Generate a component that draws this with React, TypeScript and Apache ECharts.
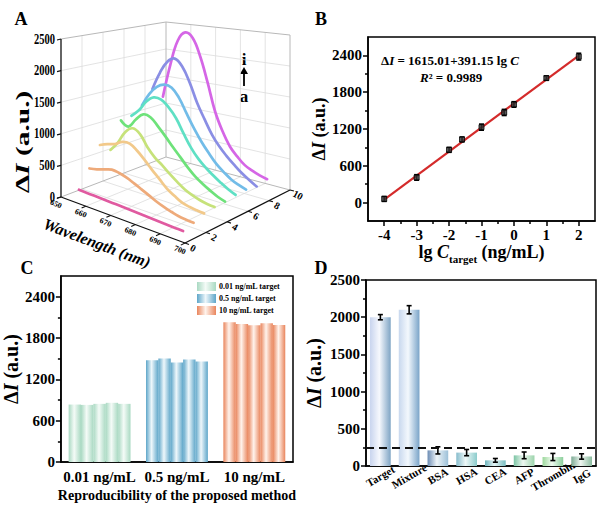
import React, { useEffect, useRef } from 'react';
import * as echarts from 'echarts';

const FONT = '"Liberation Serif", "Times New Roman", Times, serif';

// ---------- Panel A: fluorescence spectra (a..i) ----------
const wavelengths = [653, 656, 659, 662, 665, 668, 671, 674, 677, 680, 683, 686, 689, 692, 695];
const curveNames = ['a', 'b', 'c', 'd', 'e', 'f', 'g', 'h', 'i'];
const curvePositions = [1, 2, 3, 4, 5, 6, 7, 8, 9];
const spectrumA = [95, 90, 86, 82, 78, 74, 70, 65, 60, 55, 50, 45, 40, 36, 32];
const spectrumB = [375, 400, 440, 475, 460, 425, 375, 320, 265, 210, 165, 130, 100, 88, 80];
const spectrumC = [700, 750, 790, 860, 870, 790, 680, 560, 450, 340, 265, 200, 170, 155, 145];
const spectrumD = [560, 720, 930, 1025, 960, 780, 650, 560, 460, 370, 290, 240, 200, 175, 165];
const spectrumE = [1000, 930, 1080, 1200, 1180, 1060, 930, 790, 660, 530, 420, 340, 270, 210, 170];
const spectrumF = [1025, 1150, 1330, 1430, 1420, 1320, 1170, 950, 750, 600, 490, 400, 320, 250, 195];
const spectrumG = [1150, 1380, 1530, 1595, 1570, 1420, 1190, 970, 780, 620, 480, 380, 295, 240, 200];
const spectrumH = [1390, 1700, 1920, 1995, 1880, 1630, 1310, 1060, 830, 660, 530, 420, 320, 240, 170];
const spectrumI = [1200, 1800, 2250, 2410, 2330, 2030, 1600, 1130, 820, 590, 450, 340, 280, 235, 205];
const spectra = [spectrumA, spectrumB, spectrumC, spectrumD, spectrumE, spectrumF, spectrumG, spectrumH, spectrumI];
const zTicks = [0, 500, 1000, 1500, 2000, 2500];
const wlTicks = [650, 660, 670, 680, 690, 700];
const idxTicks = [0, 2, 4, 6, 8, 10];

// ---------- Panel B: calibration ----------
const lgConc = [-4, -3, -2, -1.6, -1, -0.3, 0, 1, 2];
const deltaIB = [60, 410, 860, 1030, 1230, 1470, 1600, 2030, 2380];
const errB = [40, 45, 40, 40, 50, 50, 45, 35, 55];
const fitX = [-4, 2];
const fitY = [50, 2397];
const bTicksX = [-4, -3, -2, -1, 0, 1, 2];
const bMinorX = [-3.5, -2.5, -1.5, -0.5, 0.5, 1.5];
const bTicksY = [0, 600, 1200, 1800, 2400];
const bMinorY = [300, 900, 1500, 2100];

// ---------- Panel C: reproducibility ----------
const reproGroups = ['0.01 ng/mL', '0.5 ng/mL', '10 ng/mL'];
const reproLegend = ['0.01 ng/mL target', '0.5 ng/mL target', '10 ng/mL target'];
const rep1 = [834, 1478, 2029];
const rep2 = [829, 1502, 2005];
const rep3 = [844, 1444, 1985];
const rep4 = [859, 1488, 2015];
const rep5 = [844, 1459, 1990];
const replicates = [rep1, rep2, rep3, rep4, rep5];
const cTicksY = [0, 600, 1200, 1800, 2400];
const cMinorY = [300, 900, 1500, 2100];

// ---------- Panel D: selectivity ----------
const selCategories = ['Target', 'Mixture', 'BSA', 'HSA', 'CEA', 'AFP', 'Thrombin', 'IgG'];
const selValues = [2000, 2100, 210, 180, 76, 143, 121, 128];
const selErrors = [35, 55, 48, 42, 25, 45, 48, 36];
const selThreshold = 250;

// ---------- styles ----------
const curveColors = ['#e05aa0', '#eeaa7a', '#f2c98a', '#c6e27a', '#6ee27a', '#5fe0c4', '#72bce8', '#8a8ee4', '#d566e6'];
const cColors = [
  ['#a9d9c2', '#f4fbf7'],
  ['#5ea6c9', '#eef7fb'],
  ['#e9855c', '#fff3ec'],
];
const dColors = [
  ['#c8d4ee', '#f6f8fd', '#7ea4c4'],
  ['#c8d8ee', '#f3f8fd', '#7aa4c8'],
  ['#6c8cb4', '#eef4f8', '#9cc0d8'],
  ['#86bccc', '#eef8f8', '#8ccccc'],
  ['#70b4bc', '#e4f4f4', '#78bcc0'],
  ['#7cc4a4', '#eef8f0', '#9cd4ac'],
  ['#9cd89c', '#f0fbf0', '#8cd09c'],
  ['#7caa94', '#eef6f0', '#8cbca0'],
];

// 3D box layout for panel A (pixels inside panel A's hidden grid)
const BOX = {
  left: [61, 197], front: [185, 243], back: [166, 157], right: [290, 190],
  hLeft: 158, hFront: 170, hBack: 135, hRight: 155,
};

function proj(wl: number, idx: number, z: number): number[] {
  const u = (wl - wlTicks[0]) / (wlTicks[wlTicks.length - 1] - wlTicks[0]);
  const v = (idx - idxTicks[0]) / (idxTicks[idxTicks.length - 1] - idxTicks[0]);
  const a = (1 - u) * (1 - v), b = u * (1 - v), c = (1 - u) * v, d = u * v;
  const x = a * BOX.left[0] + b * BOX.front[0] + c * BOX.back[0] + d * BOX.right[0];
  const y = a * BOX.left[1] + b * BOX.front[1] + c * BOX.back[1] + d * BOX.right[1];
  const h = a * BOX.hLeft + b * BOX.hFront + c * BOX.hBack + d * BOX.hRight;
  return [x, y - (z / zTicks[zTicks.length - 1]) * h];
}

function hGrad(stops: string[]) {
  const n = stops.length;
  return new echarts.graphic.LinearGradient(0, 0, 1, 0,
    stops.map((c, i) => ({ offset: n === 3 && i === 1 ? 0.45 : i / (n - 1), color: c })));
}

const plain = (v: any) => String(v);
const bold = { fontFamily: FONT, fontWeight: 'bold' as const, color: '#000' };
const blackLine = { color: '#000', width: 1.5 };

function deltaIRich(size: number) {
  return {
    rich: {
      d: { fontFamily: FONT, fontWeight: 'bold', fontSize: size, color: '#000' },
      i: { fontFamily: FONT, fontWeight: 'bold', fontStyle: 'italic', fontSize: size, color: '#000' },
    },
  };
}
const deltaIName = '{d|Δ}{i|I}{d| (a.u.)}';

function errorBarRender(cap: number) {
  return (params: any, api: any) => {
    const x = api.value(0), y = api.value(1), e = api.value(2);
    const hi = api.coord([x, y + e]);
    const lo = api.coord([x, y - e]);
    const st = { stroke: '#000', lineWidth: 1.6 };
    return {
      type: 'group',
      children: [
        { type: 'line', shape: { x1: hi[0], y1: hi[1], x2: lo[0], y2: lo[1] }, style: st },
        { type: 'line', shape: { x1: hi[0] - cap / 2, y1: hi[1], x2: hi[0] + cap / 2, y2: hi[1] }, style: st },
        { type: 'line', shape: { x1: lo[0] - cap / 2, y1: lo[1], x2: lo[0] + cap / 2, y2: lo[1] }, style: st },
      ],
    };
  };
}

function renderFrame(params: any, api: any) {
  const P = (wl: number, idx: number, z: number) => api.coord(proj(wl, idx, z));
  const wl0 = wlTicks[0], wl1 = wlTicks[wlTicks.length - 1];
  const i0 = idxTicks[0], i1 = idxTicks[idxTicks.length - 1];
  const zTop = zTicks[zTicks.length - 1];
  const children: any[] = [];
  const seg = (a: number[], b: number[], stroke: string, w: number) =>
    children.push({ type: 'line', shape: { x1: a[0], y1: a[1], x2: b[0], y2: b[1] }, style: { stroke, lineWidth: w } });
  const GRID = '#dcdcdc', EDGE = '#b8b8b8', AX = '#111';
  wlTicks.slice(1, -1).forEach((w) => seg(P(w, i0, 0), P(w, i1, 0), GRID, 0.8));
  idxTicks.slice(1, -1).forEach((k) => seg(P(wl0, k, 0), P(wl1, k, 0), GRID, 0.8));
  zTicks.slice(1, -1).forEach((z) => seg(P(wl0, i0, z), P(wl0, i1, z), GRID, 0.8));
  idxTicks.slice(1, -1).forEach((k) => seg(P(wl0, k, 0), P(wl0, k, zTop), GRID, 0.8));
  zTicks.slice(1, -1).forEach((z) => seg(P(wl0, i1, z), P(wl1, i1, z), GRID, 0.8));
  wlTicks.slice(1, -1).forEach((w) => seg(P(w, i1, 0), P(w, i1, zTop), GRID, 0.8));
  seg(P(wl0, i0, 0), P(wl0, i1, 0), EDGE, 1);
  seg(P(wl0, i1, 0), P(wl1, i1, 0), EDGE, 1);
  seg(P(wl0, i1, 0), P(wl0, i1, zTop), EDGE, 1);
  seg(P(wl1, i1, 0), P(wl1, i1, zTop), EDGE, 1);
  seg(P(wl0, i0, zTop), P(wl0, i1, zTop), EDGE, 1);
  seg(P(wl0, i1, zTop), P(wl1, i1, zTop), EDGE, 1);
  seg(P(wl0, i0, 0), P(wl0, i0, zTop), AX, 1.3);
  seg(P(wl0, i0, 0), P(wl1, i0, 0), AX, 1.3);
  seg(P(wl1, i0, 0), P(wl1, i1, 0), AX, 1.3);
  zTicks.forEach((z) => {
    const p = P(wl0, i0, z);
    seg(p, [p[0] - 4, p[1] + 1], AX, 1.2);
    children.push({
      type: 'text', x: p[0] - 6, y: p[1], scaleX: 0.75,
      style: { text: String(z), align: 'right', verticalAlign: 'middle', fontFamily: FONT, fontWeight: 'bold', fontSize: 14, fill: '#000' },
    });
  });
  wlTicks.forEach((w) => {
    const p = P(w, i0, 0);
    seg(p, P(w, i0 - 0.4, 0), AX, 1.1);
    children.push({
      type: 'text', x: p[0] - 5, y: p[1] + 7, rotation: -0.4,
      style: { text: String(w), align: 'center', verticalAlign: 'middle', fontFamily: FONT, fontWeight: 'bold', fontSize: 8, fill: '#000' },
    });
  });
  idxTicks.forEach((k) => {
    const p = P(wl1, k, 0);
    seg(p, P(wl1 + 1.6, k, 0), AX, 1.1);
    children.push({
      type: 'text', x: p[0] + 8, y: p[1] + 5, rotation: -0.5,
      style: { text: String(k), align: 'center', verticalAlign: 'middle', fontFamily: FONT, fontWeight: 'bold', fontSize: 10, fill: '#000' },
    });
  });
  return { type: 'group', children };
}

function renderCurve(params: any, api: any) {
  const k = api.value(0);
  const spec = spectra[k];
  const pos = curvePositions[k];
  const pts = wavelengths.map((w, j) => api.coord(proj(w, pos, spec[j])));
  return {
    type: 'polyline',
    shape: { points: pts, smooth: 0.4 },
    style: { stroke: curveColors[k], lineWidth: 2.7, fill: 'none', lineCap: 'round' },
  };
}

function buildOption(): any {
  const cGrads = cColors.map((c) => hGrad([c[0], c[1], c[0]]));
  const dGrads = dColors.map((c) => hGrad(c));
  const txt = (text: string, x: number, y: number, size: number, extra: any = {}) => ({
    type: 'text', x, y, ...extra,
    style: { text, fontFamily: FONT, fontWeight: 'bold', fontSize: size, fill: '#000', align: 'center', verticalAlign: 'middle', ...(extra.style || {}) },
  });
  return {
    animation: false,
    backgroundColor: '#fff',
    textStyle: { fontFamily: FONT },
    grid: [
      { left: 368, top: 37, width: 227, height: 184, show: true, borderColor: '#000', borderWidth: 1.5, backgroundColor: 'transparent' },
      { left: 59, top: 276, width: 234, height: 186, show: true, borderColor: '#000', borderWidth: 1.5, backgroundColor: 'transparent' },
      { left: 366, top: 280, width: 230, height: 186, show: true, borderColor: '#000', borderWidth: 1.5, backgroundColor: 'transparent' },
      { left: 0, top: 0, width: 300, height: 250, show: false },
    ],
    legend: {
      data: reproLegend.map((n, g) => ({ name: n, icon: 'rect', itemStyle: { color: cGrads[g] } })),
      left: 197, top: 282, orient: 'vertical', itemWidth: 19, itemHeight: 9, itemGap: 3, padding: 0,
      selectedMode: false,
      textStyle: { fontFamily: FONT, fontWeight: 'bold', fontSize: 8, color: '#000', padding: [0, 0, 0, -2] },
    },
    xAxis: [
      {
        gridIndex: 0, type: 'value', min: -4.5, max: 2.5,
        axisLine: { show: true, onZero: false, lineStyle: blackLine },
        axisTick: { show: true, customValues: bTicksX, length: 5, lineStyle: blackLine },
        axisLabel: { customValues: bTicksX, formatter: plain, ...bold, fontSize: 15, margin: 6 },
        splitLine: { show: false },
        name: '{t|lg }{it|C}{sub|target}{t| (ng/mL)}', nameLocation: 'middle', nameGap: 17,
        nameTextStyle: {
          rich: {
            t: { fontFamily: FONT, fontWeight: 'bold', fontSize: 18, color: '#000', lineHeight: 25 },
            it: { fontFamily: FONT, fontWeight: 'bold', fontStyle: 'italic', fontSize: 18, color: '#000', lineHeight: 25 },
            sub: { fontFamily: FONT, fontWeight: 'bold', fontSize: 11, color: '#000', verticalAlign: 'bottom' },
          },
        },
      },
      {
        gridIndex: 0, type: 'value', min: -4.5, max: 2.5, position: 'bottom',
        axisLine: { show: false, onZero: false }, axisLabel: { show: false }, splitLine: { show: false },
        axisTick: { show: true, customValues: bMinorX, length: 3, lineStyle: blackLine },
      },
      {
        gridIndex: 1, type: 'category', data: reproGroups,
        axisLine: { show: true, onZero: false, lineStyle: blackLine }, axisTick: { show: false },
        axisLabel: { ...bold, fontSize: 15, margin: 7, interval: 0 },
        name: 'Reproducibility of the proposed method', nameLocation: 'middle', nameGap: 26,
        nameTextStyle: { ...bold, fontSize: 14 },
      },
      {
        gridIndex: 2, type: 'category', data: selCategories,
        axisLine: { show: true, onZero: false, lineStyle: blackLine }, axisTick: { show: false },
        axisLabel: { ...bold, fontSize: 11, rotate: 30, margin: 10, interval: 0, align: 'center', verticalAlign: 'middle' },
      },
      { gridIndex: 3, type: 'value', min: 0, max: 300, show: false },
    ],
    yAxis: [
      {
        gridIndex: 0, type: 'value', min: -300, max: 2700,
        axisLine: { show: true, onZero: false, lineStyle: blackLine },
        axisTick: { show: true, customValues: bTicksY, length: 5, lineStyle: blackLine },
        axisLabel: { customValues: bTicksY, formatter: plain, ...bold, fontSize: 15, margin: 6 },
        splitLine: { show: false },
        name: deltaIName, nameLocation: 'middle', nameGap: 38, nameTextStyle: deltaIRich(18),
      },
      {
        gridIndex: 0, type: 'value', min: -300, max: 2700, position: 'left',
        axisLine: { show: false, onZero: false }, axisLabel: { show: false }, splitLine: { show: false },
        axisTick: { show: true, customValues: bMinorY, length: 3, lineStyle: blackLine },
      },
      {
        gridIndex: 1, type: 'value', min: 0, max: 2700,
        axisLine: { show: true, onZero: false, lineStyle: blackLine },
        axisTick: { show: true, customValues: cTicksY, length: 5, lineStyle: blackLine },
        axisLabel: { customValues: cTicksY, formatter: plain, ...bold, fontSize: 15, margin: 6 },
        splitLine: { show: false },
        name: deltaIName, nameLocation: 'middle', nameGap: 38, nameTextStyle: deltaIRich(20),
      },
      {
        gridIndex: 1, type: 'value', min: 0, max: 2700, position: 'left',
        axisLine: { show: false, onZero: false }, axisLabel: { show: false }, splitLine: { show: false },
        axisTick: { show: true, customValues: cMinorY, length: 3, lineStyle: blackLine },
      },
      {
        gridIndex: 2, type: 'value', min: 0, max: 2500, interval: 500,
        axisLine: { show: true, onZero: false, lineStyle: blackLine },
        axisTick: { show: true, length: 5, lineStyle: blackLine },
        minorTick: { show: true, splitNumber: 2, length: 3, lineStyle: blackLine },
        axisLabel: { formatter: plain, ...bold, fontSize: 15, margin: 6 },
        splitLine: { show: false },
        name: deltaIName, nameLocation: 'middle', nameGap: 42, nameTextStyle: deltaIRich(20),
      },
      { gridIndex: 3, type: 'value', min: 0, max: 250, inverse: true, show: false },
    ],
    series: [
      // Panel A
      {
        type: 'custom', xAxisIndex: 4, yAxisIndex: 5, data: [[0, 0]], renderItem: renderFrame, z: 1, silent: true,
      },
      {
        type: 'custom', xAxisIndex: 4, yAxisIndex: 5, z: 2, silent: true,
        data: curveNames.map((_, k) => [curveNames.length - 1 - k, 0]),
        renderItem: renderCurve,
      },
      // Panel B
      {
        type: 'line', xAxisIndex: 0, yAxisIndex: 0, data: fitX.map((x, i) => [x, fitY[i]]),
        symbol: 'none', lineStyle: { color: '#d42b2b', width: 2.2 }, z: 2,
      },
      {
        type: 'custom', xAxisIndex: 0, yAxisIndex: 0, z: 3,
        data: lgConc.map((x, i) => [x, deltaIB[i], errB[i]]), renderItem: errorBarRender(5),
      },
      {
        type: 'scatter', xAxisIndex: 0, yAxisIndex: 0, z: 4,
        data: lgConc.map((x, i) => [x, deltaIB[i]]), symbol: 'rect', symbolSize: 5,
        itemStyle: { color: '#333', borderColor: '#000', borderWidth: 1 },
      },
      // Panel C
      ...replicates.map((rep, r) => ({
        type: 'bar', name: `replicate ${r + 1}`, xAxisIndex: 2, yAxisIndex: 2,
        barGap: '0%', barCategoryGap: '20%',
        data: rep.map((v, g) => ({ value: v, itemStyle: { color: cGrads[g] } })),
      })),
      ...reproLegend.map((n, g) => ({
        type: 'line', name: n, xAxisIndex: 2, yAxisIndex: 2, data: [],
        itemStyle: { color: cGrads[g] }, lineStyle: { color: cColors[g][0] },
      })),
      // Panel D
      {
        type: 'bar', xAxisIndex: 3, yAxisIndex: 4, barWidth: '72%',
        data: selValues.map((v, i) => ({ value: v, itemStyle: { color: dGrads[i] } })),
        markLine: {
          silent: true, symbol: ['none', 'none'], label: { show: false },
          lineStyle: { color: '#111', width: 2, type: [8, 5] },
          data: [{ yAxis: selThreshold }],
        },
      },
      {
        type: 'custom', xAxisIndex: 3, yAxisIndex: 4, z: 3,
        data: selValues.map((v, i) => [i, v, selErrors[i]]), renderItem: errorBarRender(5),
      },
    ],
    graphic: [
      txt('A', 21, 19, 18),
      txt('B', 321, 19, 18),
      txt('C', 27, 268, 18),
      txt('D', 321, 268, 18),
      {
        type: 'text', x: 22, y: 142, rotation: Math.PI / 2, scaleX: 1.55,
        style: { text: deltaIName, ...deltaIRich(19), align: 'center', verticalAlign: 'middle' },
      },
      txt('Wavelength (nm)', 97, 243, 16, { rotation: -0.36, style: { fontStyle: 'italic' } }),
      txt('i', 244, 59, 17),
      { type: 'line', shape: { x1: 244, y1: 86, x2: 244, y2: 72 }, style: { stroke: '#000', lineWidth: 1.8 } },
      { type: 'polygon', shape: { points: [[240, 74], [244, 67], [248, 74]] }, style: { fill: '#000' } },
      txt('a', 244, 96, 17),
      {
        type: 'text', x: 381, y: 60,
        style: {
          text: '{b|Δ}{i|I}{b| = 1615.01+391.15 lg }{i|C}', align: 'left', verticalAlign: 'middle',
          rich: {
            b: { fontFamily: FONT, fontWeight: 'bold', fontSize: 13, color: '#000' },
            i: { fontFamily: FONT, fontWeight: 'bold', fontStyle: 'italic', fontSize: 13, color: '#000' },
          },
        },
      },
      {
        type: 'text', x: 420, y: 77,
        style: {
          text: '{i|R}{b|² = 0.9989}', align: 'left', verticalAlign: 'middle',
          rich: {
            b: { fontFamily: FONT, fontWeight: 'bold', fontSize: 13, color: '#000' },
            i: { fontFamily: FONT, fontWeight: 'bold', fontStyle: 'italic', fontSize: 13, color: '#000' },
          },
        },
      },
    ],
  };
}

export default function App() {
  const ref = useRef<HTMLDivElement>(null);
  useEffect(() => {
    const chart = echarts.init(ref.current as HTMLDivElement, null, { renderer: 'svg' });
    chart.setOption(buildOption());
    return () => chart.dispose();
  }, []);
  return <div ref={ref} style={{ position: 'absolute', left: 0, top: 0, width: 602, height: 506, background: '#fff' }} />;
}
